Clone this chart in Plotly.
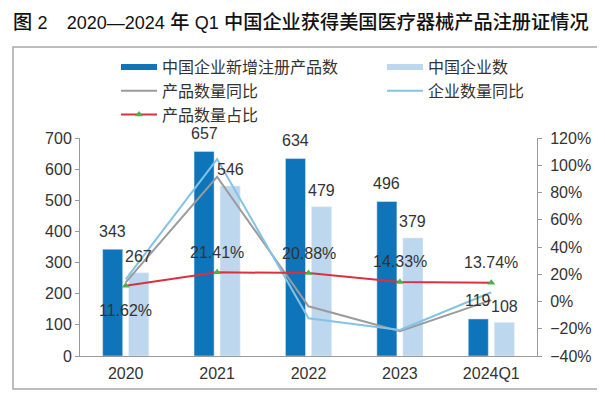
import plotly.graph_objects as go

categories = ['2020', '2021', '2022', '2023', '2024Q1']
new_products = [343, 657, 634, 496, 119]
companies = [267, 546, 479, 379, 108]
product_yoy = [0.141, 0.915, -0.035, -0.218, 0.010]
company_yoy = [0.163, 1.045, -0.123, -0.209, 0.068]
product_share = [0.1162, 0.2141, 0.2088, 0.1433, 0.1374]

names = ['中国企业新增注册产品数', '中国企业数', '产品数量同比', '企业数量同比', '产品数量占比']

C_DARK = '#0E75BA'
C_LIGHT = '#BDD7EE'
C_GRAY = '#9B9B9B'
C_LBLUE = '#82C3E6'
C_RED = '#D8323F'
C_GREEN = '#4CAF50'
TXT = '#333333'
AX = '#9A9A9A'
FONT = 'Liberation Sans, Noto Sans CJK SC, sans-serif'

# page body has an 8px default margin: figure sized to the visible area
W, H = 597, 391
PL, PR, PT, PB = 72, 529, 130, 348   # plot area in figure pixels
PW, PH = PR - PL, PB - PT

fig = go.Figure()
fig.add_trace(go.Bar(x=categories, y=new_products, marker_color=C_DARK, showlegend=False,
                     name=names[0], yaxis='y'))
fig.add_trace(go.Bar(x=categories, y=companies, marker_color=C_LIGHT, showlegend=False,
                     name=names[1], yaxis='y'))
# legend proxies for bars
fig.add_trace(go.Scatter(x=[None], y=[None], mode='lines', line=dict(color=C_DARK, width=6),
                         name=names[0], legend='legend', legendgroup='a'))
fig.add_trace(go.Scatter(x=[None], y=[None], mode='lines', line=dict(color=C_LIGHT, width=6),
                         name=names[1], legend='legend2', legendgroup='b'))
fig.add_trace(go.Scatter(x=categories, y=product_yoy, mode='lines', line=dict(color=C_GRAY, width=2),
                         name=names[2], yaxis='y2', legend='legend', legendgroup='c'))
fig.add_trace(go.Scatter(x=categories, y=company_yoy, mode='lines', line=dict(color=C_LBLUE, width=2),
                         name=names[3], yaxis='y2', legend='legend2', legendgroup='d'))
fig.add_trace(go.Scatter(x=categories, y=product_share, mode='lines+markers',
                         line=dict(color=C_RED, width=2),
                         marker=dict(symbol='triangle-up', size=7, color=C_GREEN),
                         name=names[4], yaxis='y2', legend='legend', legendgroup='e'))

# annotations use the category index on the category axis
ann = []
for i, v in enumerate(new_products):
    ann.append(dict(x=i, y=v, xref='x', yref='y', text=str(v), showarrow=False,
                    xshift=-13, yshift=18, yanchor='middle', font=dict(size=16, color=TXT)))
for i, v in enumerate(companies):
    ann.append(dict(x=i, y=v, xref='x', yref='y', text=str(v), showarrow=False,
                    xshift=13, yshift=16, yanchor='middle', font=dict(size=16, color=TXT)))
for i, v in enumerate(product_share):
    ann.append(dict(x=i, y=v, xref='x', yref='y2', text=f'{v*100:.2f}%', showarrow=False,
                    yshift=(-25 if i == 0 else 20), yanchor='middle',
                    font=dict(size=16, color=TXT)))

leg_common = dict(orientation='v', yanchor='top', font=dict(size=16, color=TXT),
                  tracegroupgap=0, itemwidth=36, bgcolor='rgba(0,0,0,0)',
                  borderwidth=0)

L = '<span style="font-size:18px">'
title_text = ('图 ' + L + '2</span>　' + L + '2020—2024</span> 年 ' + L + 'Q1</span> '
              '中国企业获得美国医疗器械产品注册证情况')

fig.update_layout(
    width=W, height=H,
    margin=dict(l=PL, r=W - PR, t=PT, b=H - PB),
    paper_bgcolor='white', plot_bgcolor='white',
    font=dict(family=FONT, size=16, color=TXT),
    title=dict(text=title_text,
               x=5/W, xanchor='left', y=1-14/H, yanchor='middle',
               font=dict(family='Liberation Sans, Noto Sans CJK SC', size=19.2, color='#111111',
                         weight=500)),
    barmode='group', bargap=0.43, bargroupgap=0.23,
    xaxis=dict(type='category', autotypenumbers='strict',
               categoryorder='array', categoryarray=categories,
               range=[-0.5, len(categories) - 0.5],
               showline=True, linecolor=AX, linewidth=1, ticks='', ticklabelstandoff=3,
               showgrid=False, tickfont=dict(size=16, color=TXT)),
    yaxis=dict(range=[0, 700], dtick=100, showline=True, linecolor=AX, linewidth=1,
               ticks='outside', ticklen=4, tickcolor=AX, showgrid=False, zeroline=False,
               tickfont=dict(size=16, color=TXT)),
    yaxis2=dict(range=[-0.4, 1.2], dtick=0.2, tickformat='.0%', overlaying='y', side='right',
                showline=True, linecolor=AX, linewidth=1, ticks='outside', ticklen=4,
                tickcolor=AX, showgrid=False, zeroline=False, ticklabelstandoff=5,
                tickfont=dict(size=16, color=TXT)),
    legend=dict(x=36/PW, xanchor='left', y=306/PH, **leg_common),
    legend2=dict(x=302/PW, xanchor='left', y=306/PH, **leg_common),
    annotations=ann,
    shapes=[dict(type='rect', xref='paper', yref='paper',
                 x0=(5-PL)/PW, x1=(595-PL)/PW, y0=(PB-381)/PH, y1=(PB-39)/PH,
                 line=dict(color='#A8A8A8', width=1.5), fillcolor='rgba(0,0,0,0)', layer='below')],
)

fig.write_html('out.html')
